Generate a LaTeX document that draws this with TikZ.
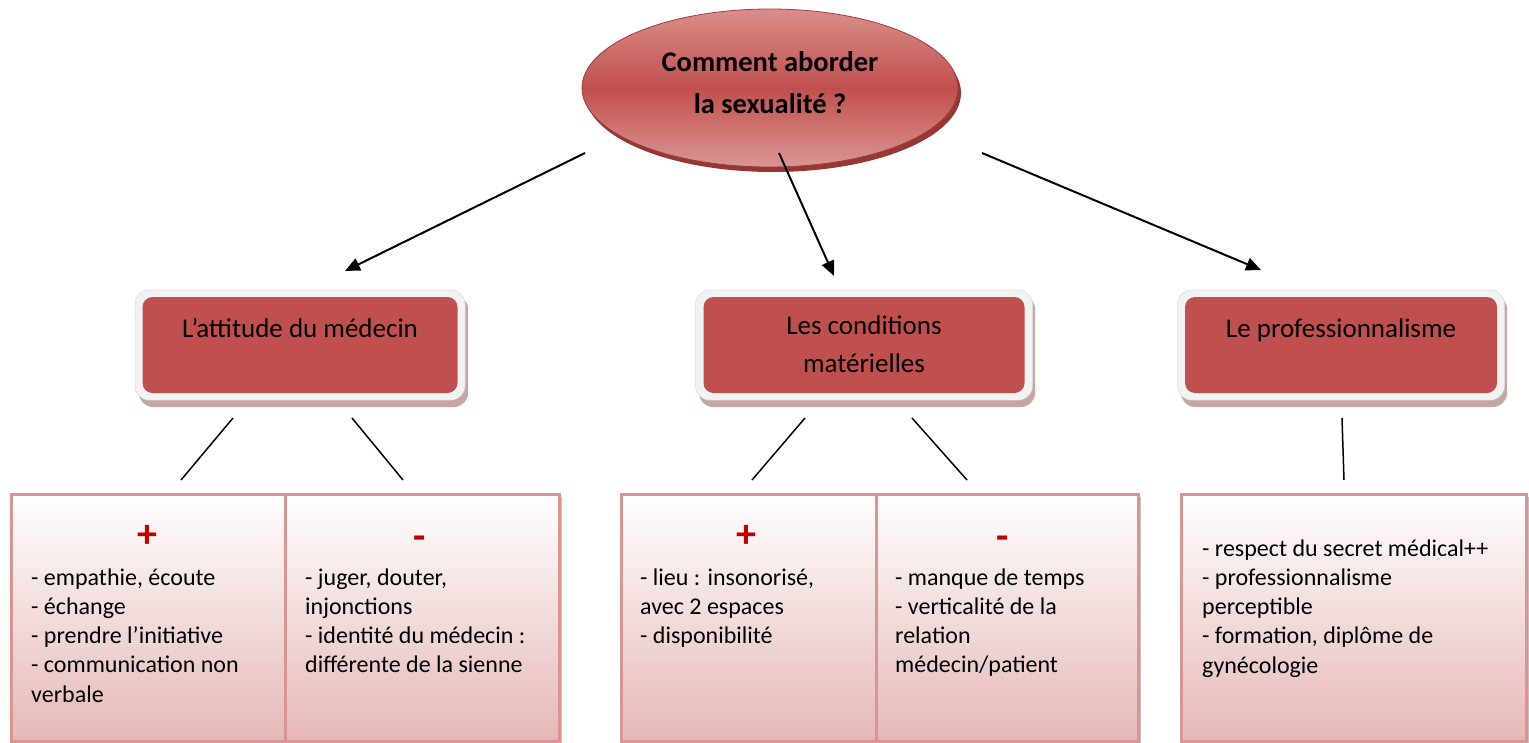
\documentclass[tikz,border=0pt]{standalone}
\usepackage{fontspec}
\setmainfont{Carlito}
\usetikzlibrary{shapes.geometric,arrows.meta}
\definecolor{redbox}{RGB}{192,80,77}
\definecolor{pinkb}{RGB}{217,149,148}
\definecolor{pinkbot}{RGB}{229,184,183}
\definecolor{elltop}{RGB}{217,142,140}
\definecolor{ellbot}{RGB}{218,150,148}
\definecolor{ellshadow}{RGB}{150,55,52}
\definecolor{plusred}{RGB}{192,0,0}
\definecolor{framegray}{RGB}{242,242,242}
\definecolor{frameshadow}{RGB}{200,165,165}
\definecolor{cellshadow}{RGB}{200,190,190}
\begin{document}
\begin{tikzpicture}[x=1pt,y=-1pt,
  frame/.style={rectangle, rounded corners=14pt, fill=framegray, draw=framegray!90!black, line width=0.5pt},
  rbox/.style={rectangle, rounded corners=10pt, fill=redbox},
  cell/.style={rectangle, draw=pinkb, line width=2.5pt, top color=white, bottom color=pinkbot, anchor=north west, inner sep=0pt, minimum height=247pt},
  boxtext/.style={font=\fontsize{27}{38}\selectfont, align=center, inner sep=0pt},
  listtext/.style={font=\fontsize{24}{29.3}\selectfont, align=left, anchor=base west, inner sep=0pt},
  sign/.style={font=\fontsize{40}{40}\selectfont\bfseries, text=plusred, inner sep=0pt},
  arrowline/.style={-{Triangle[length=15pt,width=13pt]}, line width=2pt},
  link/.style={line width=1.5pt}
]
\useasboundingbox (0,0) rectangle (1529,742);
% title ellipse
\fill[ellshadow] (773,93) ellipse [x radius=188pt, y radius=79pt];
\node[ellipse, minimum width=376pt, minimum height=158pt, inner sep=0pt,
  top color=elltop, bottom color=ellbot, middle color=redbox, draw=ellshadow!80!redbox, line width=0.8pt] (title) at (770,88) {};
\node[font=\fontsize{28.5}{42}\selectfont\bfseries, align=center, inner sep=0pt, anchor=base] (titletext) at (770,113) {Comment aborder\\la sexualité ?};

% box 1
\fill[frameshadow, rounded corners=14pt] (139,295) rectangle (468,407);
\node[frame, minimum width=330pt, minimum height=110pt] (f1) at (300,345) {};
\node[rbox, minimum width=315pt, minimum height=96pt] (b1) at (300,345) {};
\node[boxtext, anchor=base] (b1t) at (300,337) {L’attitude du médecin};

% box 2
\fill[frameshadow, rounded corners=14pt] (699,295) rectangle (1035,407);
\node[frame, minimum width=337pt, minimum height=110pt] (f2) at (864,345) {};
\node[rbox, minimum width=321pt, minimum height=96pt] (b2) at (864,345) {};
\node[boxtext, anchor=base] (b2t) at (864,372) {Les conditions\\matérielles};

% box 3
\fill[frameshadow, rounded corners=14pt] (1181,295) rectangle (1507,407);
\node[frame, minimum width=327pt, minimum height=110pt] (f3) at (1341,345) {};
\node[rbox, minimum width=312pt, minimum height=96pt] (b3) at (1341,345) {};
\node[boxtext, anchor=base] (b3t) at (1341,337) {Le professionnalisme};

% arrows
\coordinate (a1s) at (585,153); \coordinate (a1e) at (345,271);
\coordinate (a2s) at (779,153); \coordinate (a2e) at (834,276);
\coordinate (a3s) at (982,153); \coordinate (a3e) at (1261,270);
\draw[arrowline] (a1s) -- (a1e);
\draw[arrowline] (a2s) -- (a2e);
\draw[arrowline] (a3s) -- (a3e);

% links
\coordinate (l1s) at (233,418); \coordinate (l1e) at (181,480);
\coordinate (l2s) at (352,418); \coordinate (l2e) at (403,480);
\coordinate (l3s) at (805,418); \coordinate (l3e) at (752,480);
\coordinate (l4s) at (912,418); \coordinate (l4e) at (967,480);
\coordinate (l5s) at (1342,418); \coordinate (l5e) at (1344,480);
\draw[link] (l1s) -- (l1e);
\draw[link] (l2s) -- (l2e);
\draw[link] (l3s) -- (l3e);
\draw[link] (l4s) -- (l4e);
\draw[link] (l5s) -- (l5e);

% table shadows
\fill[cellshadow] (14,497) rectangle (562,744);
\fill[cellshadow] (624,497) rectangle (1141,744);
\fill[cellshadow] (1184,497) rectangle (1529,744);

% table 1
\node[cell, minimum width=274pt] (c1p) at (10,493) {};
\node[cell, minimum width=274pt] (c1m) at (284,493) {};
\node[sign] (s1p) at (147,536) {+};
\node[sign] (s1m) at (420,543) {-};
\node[listtext] (t1p) at (31,702.2) {- empathie, écoute\\- échange\\- prendre l’initiative\\- communication non\\verbale};
\node[listtext] (t1m) at (305,672.9) {- juger, douter,\\injonctions\\- identité du médecin :\\différente de la sienne};

% table 2
\node[cell, minimum width=255pt] (c2p) at (620,493) {};
\node[cell, minimum width=262pt] (c2m) at (875,493) {};
\node[sign] (s2p) at (746,536) {+};
\node[sign] (s2m) at (1003,543) {-};
\node[listtext] (t2p) at (640,643.6) {- lieu : insonorisé,\\avec 2 espaces\\- disponibilité};
\node[listtext] (t2m) at (895,672.9) {- manque de temps\\- verticalité de la\\relation\\médecin/patient};

% table 3
\node[cell, minimum width=345pt] (c3) at (1180,493) {};
\node[listtext] (t3) at (1202,673.2) {- respect du secret médical++\\- professionnalisme\\perceptible\\- formation, diplôme de\\gynécologie};
\end{tikzpicture}
\end{document}
